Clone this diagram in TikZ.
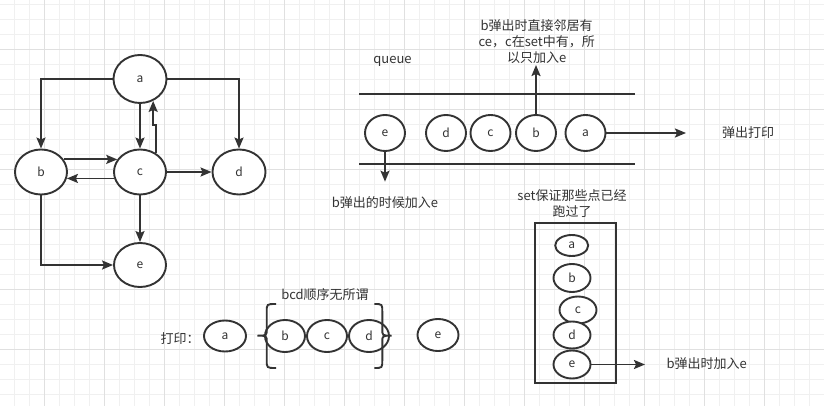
\documentclass[tikz,border=0pt]{standalone}
\usepackage{fontspec}
\setmainfont{Noto Sans CJK SC}
\usetikzlibrary{shapes.geometric, arrows.meta, positioning}
\definecolor{ink}{HTML}{333333}
\definecolor{gridminor}{HTML}{F0F0F0}
\definecolor{gridmajor}{HTML}{E0E0E0}

\begin{document}
\begin{tikzpicture}[x=1pt, y=-1pt,
	vertex/.style={ellipse, draw=ink, line width=1.9pt, fill=white, inner sep=0pt,
		minimum width=40pt, minimum height=36pt, text=ink, font=\fontsize{12}{14}\selectfont},
	arr/.style={draw=ink, line width=1.9pt, -{Stealth[length=11pt, width=9pt, inset=2pt]}},
	note/.style={text=ink, inner sep=0pt, font=\fontsize{13}{16}\selectfont}]
	\useasboundingbox (0,0) rectangle (824,406);
	% 背景网格
	\foreach \gx in {0,...,53} \draw[gridminor, line width=1pt] ({14.3+15*\gx},0) -- ++(0,406);
	\foreach \gy in {0,...,26} \draw[gridminor, line width=1pt] (0,{4.3+15*\gy}) -- ++(824,0);
	\foreach \gx in {0,...,12} \draw[gridmajor, line width=1pt] ({44.3+60*\gx},0) -- ++(0,406);
	\foreach \gy in {0,...,5} \draw[gridmajor, line width=1pt] (0,{49.3+60*\gy}) -- ++(824,0);
	
	% 左边: 图
	\node[vertex, minimum width=53pt, minimum height=48pt] (a) at (140,79) {a};
	\node[vertex, minimum width=52pt, minimum height=45pt] (b) at (41,172) {b};
	\node[vertex, minimum width=52pt, minimum height=45pt] (c) at (140,172) {c};
	\node[vertex, minimum width=53pt, minimum height=45pt] (d) at (239,172) {d};
	\node[vertex, minimum width=52pt, minimum height=44pt] (e) at (140,265) {e};
	\draw[arr] (a) -| (b);
	\draw[arr] (a) -| (d);
	\draw[arr] (a) -- (c);
	\draw[arr] (c.49) -- ++(0,-28) -| (a.301);
	\draw[arr] (b.29) -- (c.151);
	\draw[arr] (c.194) -- (b.346);
	\draw[arr] (c) -- (d);
	\draw[arr] (c) -- (e);
	\draw[arr] (b) |- (e);
	
	% 中间: queue
	\node[note] (queuelbl) at (392.5,61.7) {queue};
	\draw[ink, line width=1.9pt] (359,94) -- (635,94);
	\draw[ink, line width=1.9pt] (359,164.3) -- (635,164.3);
	\node[vertex] (qe) at (385,133) {e};
	\node[vertex] (qd) at (446,133) {d};
	\node[vertex] (qc) at (490.5,133) {c};
	\node[vertex] (qb) at (536,133) {b};
	\node[vertex] (qa) at (585.5,133) {a};
	\coordinate (popend) at (686,133);
	\coordinate (bup) at (536,65);
	\coordinate (edown) at (385,181.7);
	\draw[arr] (qa) -- (popend);
	\draw[arr] (qb) -- (bup);
	\draw[arr] (qe) -- (edown);
	\node[note] (popnote) at (748,133) {弹出打印};
	\node[note, align=center] (bnote) at (536.7,42) {b弹出时直接邻居有\\ce，c在set中有，所\\以只加入e};
	\node[note] (enote) at (385,203) {b弹出的时候加入e};
	
	% 右边: set
	\node[note, align=center] (setnote) at (572,203.5) {set保证那些点已经\\跑过了};
	\draw[ink, line width=1.9pt] (535,222.7) rectangle (615.7,383.3);
	\node[vertex, minimum width=33pt, minimum height=21pt] (sa) at (571.7,245.5) {a};
	\node[vertex, minimum width=37pt, minimum height=28pt] (sb) at (572,278) {b};
	\node[vertex, minimum width=37pt, minimum height=27pt] (sc) at (578,310) {c};
	\node[vertex, minimum width=37pt, minimum height=27pt] (sd) at (572,335) {d};
	\node[vertex, minimum width=37pt, minimum height=28pt] (se) at (572,364.5) {e};
	\coordinate (setend) at (645,364.5);
	\draw[arr] (se) -- (setend);
	\node[note] (addnote) at (706.7,364) {b弹出时加入e};
	
	% 下边: 打印
	\node[note] (printlbl) at (180,339) {打印：};
	\node[vertex, minimum width=42pt, minimum height=31pt] (pa) at (225,336) {a};
	\node[vertex, minimum height=32pt] (pb) at (285,336) {b};
	\node[vertex, minimum height=32pt] (pc) at (327,336) {c};
	\node[vertex, minimum height=32pt] (pd) at (369,336) {d};
	\node[vertex, minimum width=41pt, minimum height=32pt] (pe) at (438,335) {e};
	\node[note] (bcdnote) at (325,295) {bcd顺序无所谓};
	\draw[ink, line width=1.9pt] (276,304) .. controls (266.7,304) .. (266.7,312) -- (266.7,329)
		.. controls (266.7,335.7) .. (257.3,335.7) .. controls (266.7,335.7) .. (266.7,342)
		-- (266.7,360) .. controls (266.7,368) .. (276,368);
	\draw[ink, line width=1.9pt] (374.3,304) .. controls (382.3,304) .. (382.3,312) -- (382.3,329)
		.. controls (382.3,335.7) .. (391.7,335.7) .. controls (382.3,335.7) .. (382.3,342)
		-- (382.3,360) .. controls (382.3,368) .. (374.3,368);
\end{tikzpicture}
\end{document}
